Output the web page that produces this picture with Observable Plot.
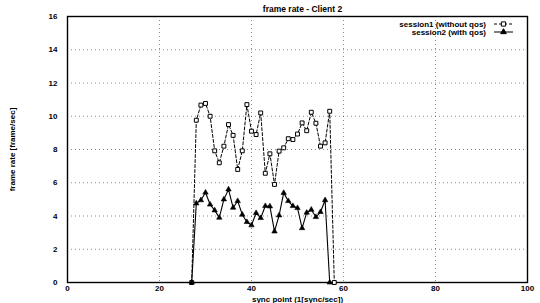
<!DOCTYPE html>
<html>
<head>
<meta charset="utf-8">
<script src="https://cdn.jsdelivr.net/npm/d3@7"></script>
<script src="https://cdn.jsdelivr.net/npm/@observablehq/plot@0.6"></script>
<style>
  html, body { margin: 0; padding: 0; background: #fff; }
  #wrap { position: relative; width: 540px; height: 303px; font-family: "Liberation Sans", Arial, sans-serif; }
  #legend { position: absolute; left: 0; top: 0; pointer-events: none; }
</style>
</head>
<body>
<div id="wrap"></div>
<script>
const titleText = "frame rate - Client 2";
const xLabel = "sync point (1[sync/sec])";
const yLabel = "frame rate [frame/sec]";
const seriesNames = ["session1 (without qos)", "session2 (with qos)"];
const xTicks = [0, 20, 40, 60, 80, 100];
const yTicks = [0, 2, 4, 6, 8, 10, 12, 14, 16];

const session1X = [27, 28, 29, 30, 31, 32, 33, 34, 35, 36, 37, 38, 39, 40, 41, 42, 43, 44, 45, 46, 47, 48, 49, 50, 51, 52, 53, 54, 55, 56, 57, 58];
const session1Y = [0, 9.76, 10.67, 10.77, 10.0, 7.92, 7.2, 8.2, 9.5, 8.85, 6.8, 7.92, 10.7, 9.1, 8.9, 10.2, 6.57, 7.74, 5.9, 7.9, 8.1, 8.65, 8.6, 8.93, 9.6, 9.13, 10.24, 9.58, 8.2, 8.4, 10.3, 0];

const session2X = [27, 28, 29, 30, 31, 32, 33, 34, 35, 36, 37, 38, 39, 40, 41, 42, 43, 44, 45, 46, 47, 48, 49, 50, 51, 52, 53, 54, 55, 56, 57];
const session2Y = [0, 4.76, 4.95, 5.41, 4.69, 4.34, 3.9, 5.0, 5.6, 4.5, 4.9, 4.08, 3.64, 3.44, 4.18, 3.88, 4.6, 4.58, 3.07, 4.04, 5.39, 4.9, 4.6, 4.48, 3.27, 4.2, 4.38, 3.94, 4.24, 4.95, 0];

const s1 = session1X.map((x, i) => ({x, y: session1Y[i]}));
const s2 = session2X.map((x, i) => ({x, y: session2Y[i]}));

const chart = Plot.plot({
  width: 540,
  height: 303,
  marginLeft: 67,
  marginRight: 13,
  marginTop: 16,
  marginBottom: 21,
  style: {fontFamily: "'Liberation Sans', Arial, sans-serif", fontSize: "8px", color: "#000", background: "#fff"},
  x: {domain: [0, 100]},
  y: {domain: [0, 16]},
  marks: [
    Plot.gridX(xTicks, {stroke: "#000", strokeOpacity: 0.45, strokeDasharray: "1,3"}),
    Plot.gridY(yTicks, {stroke: "#000", strokeOpacity: 0.45, strokeDasharray: "1,3"}),
    Plot.axisX(xTicks, {tickSize: 0, tickPadding: 3, label: xLabel, labelAnchor: "center", labelArrow: "none", labelOffset: 19, fontWeight: "bold"}),
    Plot.axisY(yTicks, {tickSize: 0, tickPadding: 10, label: yLabel, labelAnchor: "center", labelArrow: "none", labelOffset: 58, fontWeight: "bold"}),
    Plot.frame({stroke: "#000", strokeWidth: 1.4}),
    Plot.line(s1, {x: "x", y: "y", stroke: "#000", strokeWidth: 1, strokeDasharray: "3,2"}),
    Plot.line(s2, {x: "x", y: "y", stroke: "#000", strokeWidth: 1.1}),
    Plot.dot(s1, {x: "x", y: "y", symbol: "square", r: 2.2, fill: "#fff", stroke: "#000", strokeWidth: 1}),
    Plot.dot(s2, {x: "x", y: "y", symbol: "triangle", r: 2.0, fill: "#000", stroke: "#000", strokeWidth: 0.6}),
    Plot.text([titleText], {frameAnchor: "top", dy: -11, dx: 5, text: d => d, fontSize: 8.5, fontWeight: "bold"})
  ]
});
document.getElementById("wrap").appendChild(chart);

// legend overlay
const lg = d3.select("#wrap").append("svg").attr("id", "legend").attr("width", 540).attr("height", 303);
const rows = [
  {name: seriesNames[0], dash: "3,2", sym: "square"},
  {name: seriesNames[1], dash: null, sym: "triangle"}
];
rows.forEach((r, i) => {
  const cy = 24 + i * 8;
  lg.append("text").attr("x", 486).attr("y", cy).attr("dy", "0.32em").attr("text-anchor", "end")
    .attr("font-size", 8).attr("font-weight", "bold").attr("font-family", "'Liberation Sans', Arial, sans-serif").text(r.name);
  const ln = lg.append("line").attr("x1", 494).attr("x2", 513).attr("y1", cy).attr("y2", cy).attr("stroke", "#000").attr("stroke-width", 1);
  if (r.dash) ln.attr("stroke-dasharray", r.dash);
  const sym = r.sym === "square" ? d3.symbolSquare : d3.symbolTriangle;
  lg.append("path").attr("transform", `translate(503.5,${cy})`).attr("d", d3.symbol(sym, r.sym === "square" ? 18 : 14)())
    .attr("fill", r.sym === "square" ? "#fff" : "#000").attr("stroke", "#000").attr("stroke-width", 1);
});
</script>
</body>
</html>
